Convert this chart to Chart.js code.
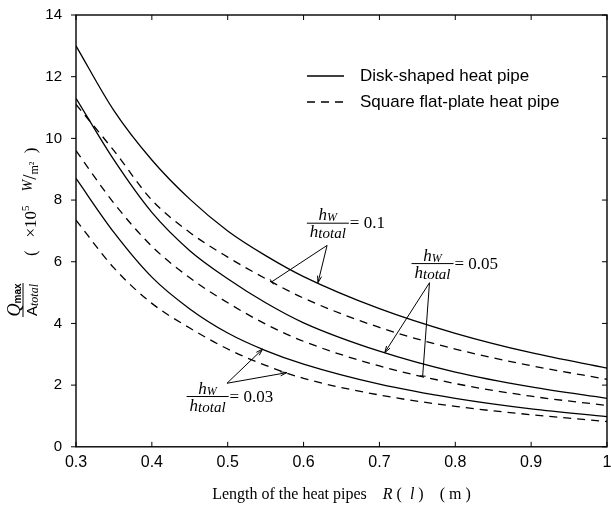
<!DOCTYPE html>
<html>
<head>
<meta charset="utf-8">
<script src="https://cdn.jsdelivr.net/npm/chart.js@4.4.1/dist/chart.umd.min.js"></script>
<style>
  html, body { margin: 0; padding: 0; background: #fff; overflow: hidden; }
</style>
</head>
<body>
<canvas id="pipe-chart" width="611" height="510"></canvas>
<script>
// R (m)
var radius = [0.3, 0.35, 0.4, 0.45, 0.5, 0.55, 0.6, 0.7, 0.8, 0.9, 1.0];

// Qmax/Atotal (x10^5 W/m2)
var disk01    = [13.0, 10.9, 9.3, 8.03, 7.0, 6.2, 5.52, 4.48, 3.68, 3.05, 2.55];
var square01  = [11.1, 9.6, 8.0, 6.95, 6.15, 5.45, 4.82, 3.87, 3.17, 2.63, 2.19];
var disk005   = [11.3, 9.3, 7.6, 6.36, 5.45, 4.67, 4.02, 3.1, 2.42, 1.94, 1.57];
var square005 = [9.6, 7.9, 6.5, 5.48, 4.67, 3.98, 3.42, 2.62, 2.05, 1.64, 1.34];
var disk003   = [8.7, 6.95, 5.5, 4.47, 3.69, 3.12, 2.68, 2.03, 1.57, 1.23, 0.98];
var square003 = [7.35, 5.8, 4.65, 3.85, 3.17, 2.64, 2.22, 1.68, 1.31, 1.04, 0.82];

var seriesNames = ['Disk-shaped heat pipe', 'Square flat-plate heat pipe'];

var sans = '"Liberation Sans", Arial, sans-serif';
var serif = '"Liberation Serif", "Times New Roman", serif';
var dash = [8, 6];

function points(ys) {
    return radius.map(function(r, i) { return { x: r, y: ys[i] }; });
}

// value of a curve at r, straight between read points
function valueAt(ys, r) {
    for (var i = 0; i < radius.length - 1; i++) {
        if (r >= radius[i] && r <= radius[i + 1]) {
            var t = (r - radius[i]) / (radius[i + 1] - radius[i]);
            return ys[i] + t * (ys[i + 1] - ys[i]);
        }
    }
    return ys[ys.length - 1];
}

function richWidth(ctx, parts) {
    var w = 0;
    parts.forEach(function(p) { ctx.font = p.font; w += ctx.measureText(p.t).width; });
    return w;
}

function drawRich(ctx, x, y, parts, align) {
    var cx = align === 'center' ? x - richWidth(ctx, parts) / 2 : x;
    parts.forEach(function(p) {
        ctx.font = p.font;
        ctx.fillText(p.t, cx, y + (p.dy || 0));
        cx += ctx.measureText(p.t).width;
    });
}

// h_w / h_total labels with their arrows
var ratioNotes = [
    { text: '= 0.1', r: 0.632, q: 7.25, from: [0.631, 6.53],
      arrows: [[0.558, square01, 'bar'], [0.619, disk01, 'head']] },
    { text: '= 0.05', r: 0.77, q: 5.94, from: [0.766, 5.32],
      arrows: [[0.707, disk005, 'head'], [0.757, square005, 'bar']] },
    { text: '= 0.03', r: 0.4735, q: 1.63, from: [0.499, 2.06],
      arrows: [[0.546, disk003, 'head'], [0.578, square003, 'head']] }
];

var framePlugin = {
    id: 'frame',
    afterDraw: function(chart) {
        var ctx = chart.ctx, a = chart.chartArea;
        var xs = chart.scales.x, ys = chart.scales.y;
        ctx.save();
        ctx.strokeStyle = '#000';
        ctx.lineWidth = 1.4;
        ctx.strokeRect(a.left, a.top, a.right - a.left, a.bottom - a.top);
        ctx.lineWidth = 1;
        ctx.beginPath();
        xs.ticks.forEach(function(t) {
            var px = xs.getPixelForValue(t.value);
            ctx.moveTo(px, a.bottom); ctx.lineTo(px, a.bottom - 5);
            ctx.moveTo(px, a.top); ctx.lineTo(px, a.top + 5);
        });
        ys.ticks.forEach(function(t) {
            var py = ys.getPixelForValue(t.value);
            ctx.moveTo(a.left - 5, py); ctx.lineTo(a.left, py);
            ctx.moveTo(a.right, py); ctx.lineTo(a.right - 5, py);
        });
        ctx.stroke();
        ctx.restore();
    }
};

var notesPlugin = {
    id: 'notes',
    afterDraw: function(chart) {
        var ctx = chart.ctx, a = chart.chartArea;
        var xs = chart.scales.x, ys = chart.scales.y;
        ctx.save();
        ctx.fillStyle = '#000';
        ctx.strokeStyle = '#000';
        ctx.textBaseline = 'alphabetic';

        // legend
        var lx = a.left + 231, ly1 = a.top + 61, ly2 = a.top + 87;
        ctx.lineWidth = 1.3;
        ctx.beginPath(); ctx.moveTo(lx, ly1); ctx.lineTo(lx + 37, ly1); ctx.stroke();
        ctx.setLineDash(dash);
        ctx.beginPath(); ctx.moveTo(lx, ly2); ctx.lineTo(lx + 38, ly2); ctx.stroke();
        ctx.setLineDash([]);
        ctx.font = '17px ' + sans;
        ctx.textBaseline = 'middle';
        ctx.fillText(seriesNames[0], lx + 53, ly1);
        ctx.fillText(seriesNames[1], lx + 53, ly2);
        ctx.textBaseline = 'alphabetic';

        // ratio labels
        ratioNotes.forEach(function(n) {
            var cx = xs.getPixelForValue(n.r), cy = ys.getPixelForValue(n.q);
            ctx.lineWidth = 1;
            ctx.beginPath(); ctx.moveTo(cx - 21, cy); ctx.lineTo(cx + 21, cy); ctx.stroke();
            drawRich(ctx, cx, cy - 3, [
                { t: 'h', font: 'italic 17px ' + serif },
                { t: 'W', font: 'italic 12px ' + serif, dy: 1 }
            ], 'center');
            drawRich(ctx, cx, cy + 14, [
                { t: 'h', font: 'italic 17px ' + serif },
                { t: 'total', font: 'italic 15px ' + serif, dy: 1 }
            ], 'center');
            ctx.font = '17px ' + serif;
            ctx.fillText(n.text, cx + 22, cy + 5);

            var ox = xs.getPixelForValue(n.from[0]), oy = ys.getPixelForValue(n.from[1]);
            n.arrows.forEach(function(ar) {
                var tx = xs.getPixelForValue(ar[0]), ty = ys.getPixelForValue(valueAt(ar[1], ar[0]));
                var ang = Math.atan2(ty - oy, tx - ox);
                ctx.beginPath(); ctx.moveTo(ox, oy); ctx.lineTo(tx, ty); ctx.stroke();
                ctx.beginPath();
                if (ar[2] === 'head') {
                    ctx.moveTo(tx - 7 * Math.cos(ang - 0.3), ty - 7 * Math.sin(ang - 0.3));
                    ctx.lineTo(tx, ty);
                    ctx.lineTo(tx - 7 * Math.cos(ang + 0.3), ty - 7 * Math.sin(ang + 0.3));
                } else {
                    ctx.moveTo(tx - 3 * Math.sin(ang), ty + 3 * Math.cos(ang));
                    ctx.lineTo(tx + 3 * Math.sin(ang), ty - 3 * Math.cos(ang));
                }
                ctx.stroke();
            });
        });

        // y axis title, rotated
        ctx.save();
        ctx.translate(a.left - 53, a.top + 285);
        ctx.rotate(-Math.PI / 2);
        ctx.lineWidth = 1;
        ctx.beginPath(); ctx.moveTo(-17, 0); ctx.lineTo(17, 0); ctx.stroke();
        drawRich(ctx, 0, -3, [
            { t: 'Q', font: 'italic 18px ' + serif },
            { t: 'max', font: 'bold 10px ' + sans, dy: 1 }
        ], 'center');
        drawRich(ctx, 0, 14, [
            { t: 'A', font: '15px ' + sans },
            { t: 'total', font: 'italic 12px ' + serif, dy: 1 }
        ], 'center');
        drawRich(ctx, 44, 13, [
            { t: '(   ×10', font: '17px ' + serif },
            { t: '5', font: '11px ' + serif, dy: -7 },
            { t: '    W', font: 'italic 14px ' + serif, dy: -4 },
            { t: '/', font: '19px ' + serif },
            { t: 'm', font: '12px ' + serif, dy: 2 },
            { t: '²', font: '12px ' + serif, dy: 1 },
            { t: '  )', font: '17px ' + serif }
        ], 'left');
        ctx.restore();

        // x axis title
        drawRich(ctx, (a.left + a.right) / 2, a.bottom + 52, [
            { t: 'Length of the heat pipes    ', font: '16px ' + serif },
            { t: 'R', font: 'italic 16px ' + serif },
            { t: ' (  ', font: '16px ' + serif },
            { t: 'l', font: 'italic 16px ' + serif },
            { t: ' )    ( m )', font: '16px ' + serif }
        ], 'center');
        ctx.restore();
    }
};

function line(ys, dashed) {
    return {
        label: dashed ? seriesNames[1] : seriesNames[0],
        data: points(ys),
        borderColor: '#000',
        backgroundColor: '#000',
        borderWidth: 1.3,
        borderDash: dashed ? dash : [],
        pointRadius: 0,
        fill: false,
        cubicInterpolationMode: 'monotone'
    };
}

var ctx = document.getElementById('pipe-chart');
var chart = new Chart(ctx, {
    type: 'line',
    data: {
        datasets: [
            line(disk01, false), line(square01, true),
            line(disk005, false), line(square005, true),
            line(disk003, false), line(square003, true)
        ]
    },
    options: {
        responsive: false,
        animation: false,
        layout: { padding: { top: 15, right: 4, bottom: 40, left: 0 } },
        plugins: { legend: { display: false }, tooltip: { enabled: false } },
        scales: {
            x: {
                type: 'linear',
                min: 0.3,
                max: 1.0,
                grid: { display: false },
                border: { display: false },
                ticks: {
                    stepSize: 0.1,
                    padding: -2,
                    color: '#000',
                    font: { family: sans, size: 16 },
                    maxRotation: 0,
                    callback: function(v) { return String(+v.toFixed(1)); }
                }
            },
            y: {
                min: 0,
                max: 14,
                grid: { display: false },
                border: { display: false },
                ticks: {
                    stepSize: 2,
                    padding: 6,
                    color: '#000',
                    font: { family: sans, size: 15 }
                },
                afterFit: function(scale) { scale.width = 76; }
            }
        }
    },
    plugins: [framePlugin, notesPlugin]
});
</script>
</body>
</html>
